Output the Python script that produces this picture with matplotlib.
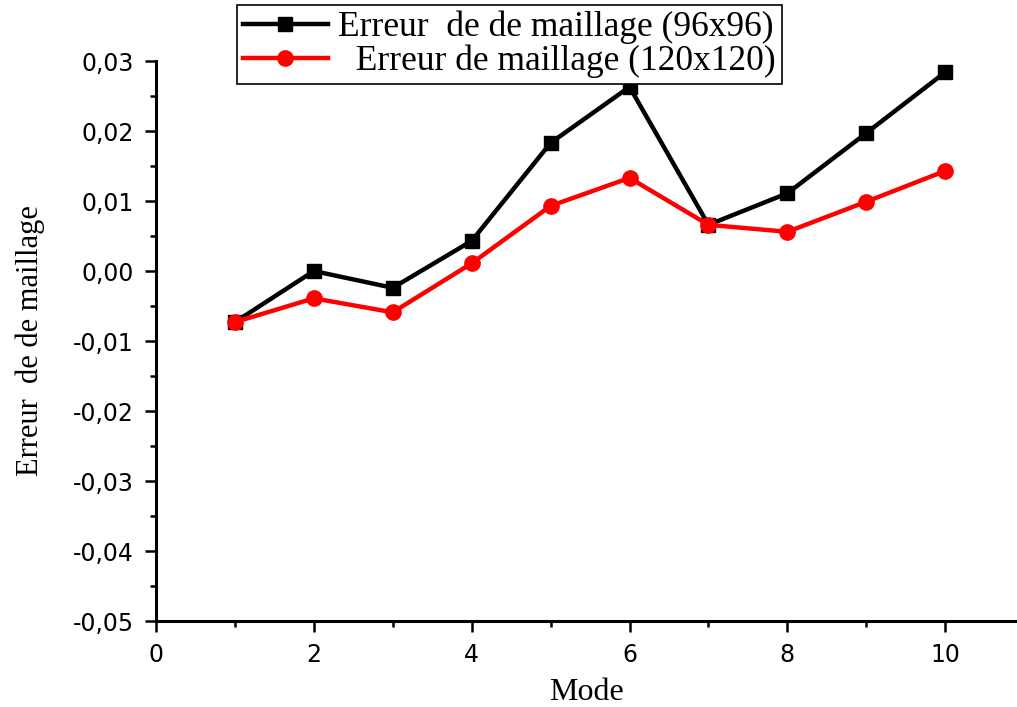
import matplotlib
matplotlib.use("Agg")
import matplotlib.pyplot as plt
from matplotlib.ticker import MultipleLocator, FuncFormatter

# Mesh error per vibration mode for two grid resolutions
modes = [1, 2, 3, 4, 5, 6, 7, 8, 9, 10]
err_96 = [-0.0073, 0.0000, -0.0024, 0.0043, 0.0183, 0.0263, 0.0066, 0.0111, 0.0197, 0.0284]
err_120 = [-0.0073, -0.0039, -0.0059, 0.0011, 0.0093, 0.0133, 0.0066, 0.0056, 0.0099, 0.0143]
labels = ["Erreur  de de maillage (96x96)", "  Erreur de maillage (120x120)"]

fig = plt.figure(figsize=(10.17, 7.07), dpi=100)
ax = fig.add_axes([0.1534, 0.1216, 0.8466, 0.7921])

ax.plot(modes, err_96, color="black", lw=3.2, marker="s", ms=10, label=labels[0])
ax.plot(modes, err_120, color="red", lw=3.2, marker="o", ms=11, label=labels[1])

ax.set_xlim(0, 10.91)
ax.set_ylim(-0.05, 0.03)
ax.xaxis.set_major_locator(MultipleLocator(2))
ax.xaxis.set_minor_locator(MultipleLocator(1))
ax.yaxis.set_major_locator(MultipleLocator(0.01))
ax.yaxis.set_minor_locator(MultipleLocator(0.005))
ax.yaxis.set_major_formatter(FuncFormatter(lambda v, p: f"{v:.2f}".replace(".", ",").replace("-0,00", "0,00")))

for side in ("top", "right"):
    ax.spines[side].set_visible(False)
for side in ("left", "bottom"):
    ax.spines[side].set_linewidth(2.2)

ax.tick_params(which="major", direction="out", length=8, width=1.8, pad=8,
               labelsize=17)
ax.tick_params(which="minor", direction="out", length=4, width=1.8)
for lab in ax.get_xticklabels() + ax.get_yticklabels():
    lab.set_fontfamily("DejaVu Sans")

ax.set_xlabel("Mode", fontfamily="Liberation Serif", fontsize=23, labelpad=8)
ax.set_ylabel("Erreur  de de maillage", fontfamily="Liberation Serif", fontsize=22)
ax.yaxis.set_label_coords(-0.129, 0.5)

leg = ax.legend(loc="upper left", bbox_to_anchor=(0.233, 0.993), bbox_transform=fig.transFigure,
                borderaxespad=0, fancybox=False, framealpha=1, edgecolor="black",
                prop={"family": "Liberation Serif", "size": 25.5},
                handlelength=2.4, handletextpad=0.3, borderpad=0.16, labelspacing=0.02)
leg.get_frame().set_linewidth(1.2)

fig.savefig("out.png", dpi=100)
